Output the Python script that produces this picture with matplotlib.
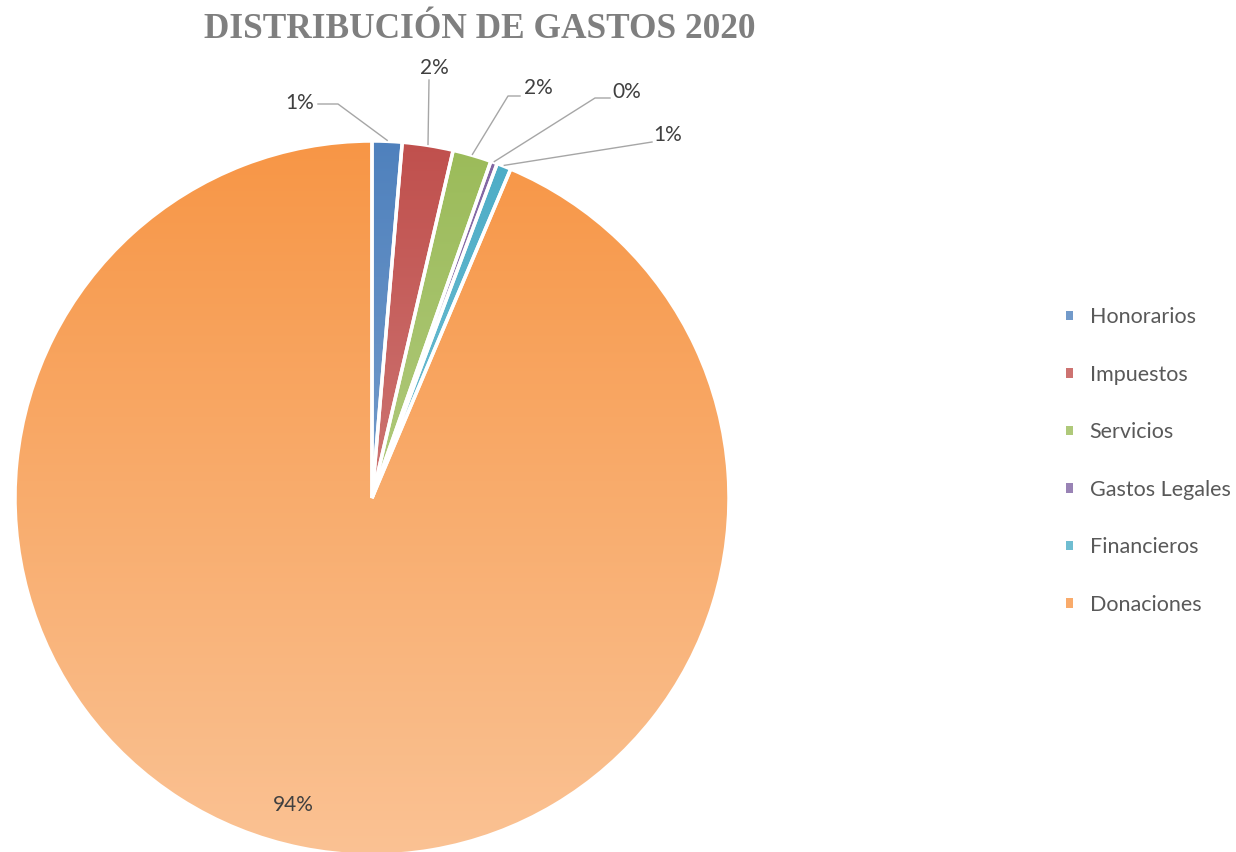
import numpy as np
import matplotlib.pyplot as plt
from matplotlib.colors import to_rgb

categorias = ["Honorarios", "Impuestos", "Servicios", "Gastos Legales", "Financieros", "Donaciones"]
valores = [1.35, 2.3, 1.75, 0.3, 0.65, 93.65]
colores = ["#4F81BD", "#C0504D", "#9BBB59", "#8064A2", "#4BACC6", "#F79646"]

W, H = 1236, 852
cx, cy, R = 372, H - 498, 357

fig = plt.figure(figsize=(W / 100, H / 100), dpi=100)
ax = fig.add_axes([0, 0, 1, 1])

wedges, _ = ax.pie(valores, colors=colores, startangle=90, counterclock=False,
                   center=(cx, cy), radius=R,
                   wedgeprops=dict(edgecolor="white", linewidth=2.5))

# degradado vertical en cada porcion
t = np.linspace(0, 1, 256)[:, None]
for w, c in zip(wedges, colores):
    base = np.array(to_rgb(c))
    light = base + (1 - base) * 0.42
    grad = (1 - t)[..., None] * base + t[..., None] * light
    grad = np.repeat(grad, 2, axis=1)
    im = ax.imshow(grad, extent=(cx - R, cx + R, cy - R, cy + R),
                   origin="upper", aspect="auto", zorder=1, interpolation="bilinear")
    im.set_clip_path(w)
    w.set_facecolor("none")
    w.set_zorder(2)
ax.set_xlim(0, W)
ax.set_ylim(0, H)
ax.set_aspect("equal")
ax.axis("off")

# etiquetas de porcentaje
pct = [f"{round(v):.0f}%" for v in valores]
label_pos = [(300, H - 103), (434, H - 68), (538, H - 88), (627, H - 92), (668, H - 135)]
elbows = [[(318, H - 104), (338, H - 104)],
          [(429, H - 80)],
          [(520, H - 96), (508, H - 96)],
          [(610, H - 98), (595, H - 98)],
          [(652, H - 142)]]
acum = np.cumsum([0] + valores)
total = sum(valores)
for i in range(5):
    mid = (acum[i] + acum[i + 1]) / 2 / total * 2 * np.pi
    px = cx + (R + 1) * np.sin(mid)
    py = cy + (R + 1) * np.cos(mid)
    pts = elbows[i] + [(px, py)]
    ax.plot([p[0] for p in pts], [p[1] for p in pts], color="#A6A6A6", lw=1, zorder=3)
    ax.text(label_pos[i][0], label_pos[i][1], pct[i], ha="center", va="center",
            fontsize=15, color="#404040", family="Lato", zorder=4)
ax.text(293, H - 805, pct[5], ha="center", va="center", fontsize=15,
        color="#404040", family="Lato", zorder=4)

fig.text(480 / W, 1 - 30 / H, "DISTRIBUCIÓN DE GASTOS 2020", ha="center", va="center",
         fontsize=25.4, fontweight="bold", color="#7F7F7F", family="Liberation Serif")

leg = ax.legend(wedges, categorias, loc="center left", bbox_to_anchor=(1047 / W, 1 - 461 / H),
                frameon=False, handlelength=0.3, handleheight=0.3, handletextpad=0.78,
                labelspacing=1.74, prop=dict(family="Lato", size=15.5))
for h, c in zip(leg.legend_handles, colores):
    base = np.array(to_rgb(c))
    h.set_facecolor(base + (1 - base) * 0.2)
    h.set_edgecolor("none")
for txt in leg.get_texts():
    txt.set_color("#595959")

fig.savefig("out.png", dpi=100)
